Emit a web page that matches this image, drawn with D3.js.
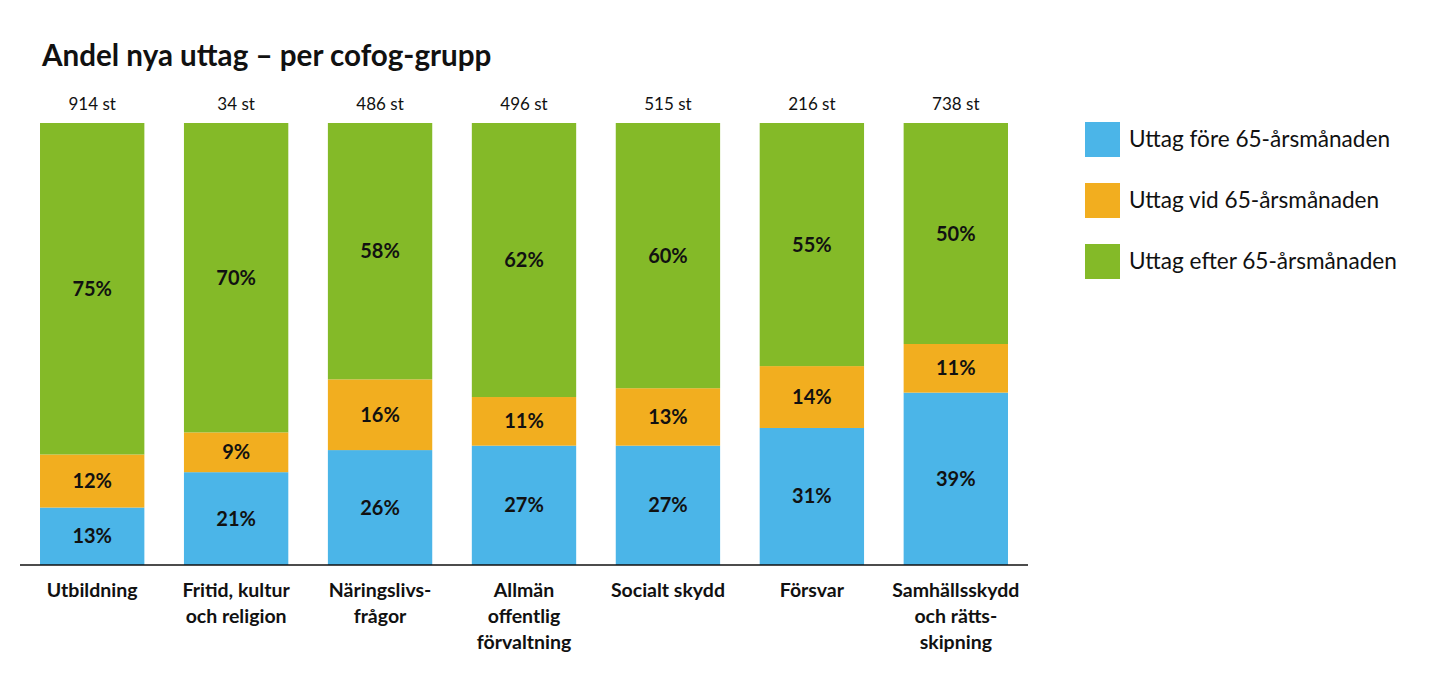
<!DOCTYPE html>
<html><head><meta charset="utf-8">
<script src="https://cdn.jsdelivr.net/npm/d3@7"></script>
<style>body{margin:0;background:#fff;} text{font-family:Lato,"Open Sans",sans-serif;}</style>
</head><body><svg id="c" width="1436" height="694"></svg>
<script>
const categories = [["Utbildning"],["Fritid, kultur","och religion"],["Näringslivs-","frågor"],["Allmän","offentlig","förvaltning"],["Socialt skydd"],["Försvar"],["Samhällsskydd","och rätts-","skipning"]];
const counts = ["914 st","34 st","486 st","496 st","515 st","216 st","738 st"];
const fore = [13,21,26,27,27,31,39];
const vid = [12,9,16,11,13,14,11];
const efter = [75,70,58,62,60,55,50];
const seriesNames = ["Uttag före 65-årsmånaden","Uttag vid 65-årsmånaden","Uttag efter 65-årsmånaden"];
const colors = ["#4bb5e8","#f2ae1f","#84ba28"];

const svg = d3.select("#c");
const rows = categories.map((c,i)=>({i, fore:fore[i], vid:vid[i], efter:efter[i]}));
const keys = ["fore","vid","efter"];
const stack = d3.stack().keys(keys)(rows);

const x = d3.scaleBand().domain(d3.range(categories.length)).range([21.3,1026.7]).paddingInner(0.275).paddingOuter(0.13);
const y = d3.scaleLinear().domain([0,100]).range([565,123]);

svg.append("text").attr("x",42).attr("y",66).attr("font-size",29.6).attr("font-weight",700).attr("fill","#111").text("Andel nya uttag – per cofog-grupp");

stack.forEach((s,k)=>{
  const g = svg.append("g");
  g.selectAll("rect").data(s).join("rect")
    .attr("x",(d,i)=>x(i)).attr("width",x.bandwidth())
    .attr("y",d=>y(d[1])).attr("height",d=>y(d[0])-y(d[1]))
    .attr("fill",colors[k]);
  g.selectAll("text").data(s).join("text")
    .attr("x",(d,i)=>x(i)+x.bandwidth()/2)
    .attr("y",d=>(y(d[0])+y(d[1]))/2+7)
    .attr("text-anchor","middle").attr("font-size",20).attr("font-weight",700).attr("fill","#111")
    .text(d=>(d[1]-d[0])+"%");
});

svg.append("g").selectAll("text").data(counts).join("text")
  .attr("x",(d,i)=>x(i)+x.bandwidth()/2).attr("y",110)
  .attr("text-anchor","middle").attr("font-size",17).attr("fill","#111").text(d=>d);

const axis = d3.axisBottom(x).tickSize(0).tickFormat("");
const ag = svg.append("g").attr("transform","translate(0,565)").call(axis);
ag.select(".domain").attr("stroke","#111").attr("stroke-width",1.5).attr("d","M20,0H1028");

const lab = svg.append("g").selectAll("text").data(categories).join("text")
  .attr("x",(d,i)=>x(i)+x.bandwidth()/2).attr("y",597)
  .attr("text-anchor","middle").attr("font-size",19.5).attr("font-weight",700).attr("fill","#111");
lab.selectAll("tspan").data(d=>d).join("tspan")
  .attr("x",function(){return this.parentNode.getAttribute("x");})
  .attr("dy",(d,j)=>j===0?0:26).text(d=>d);

const lg = svg.append("g").selectAll("g").data(seriesNames).join("g")
  .attr("transform",(d,i)=>`translate(1085,${122+i*61})`);
lg.append("rect").attr("width",35).attr("height",35).attr("fill",(d,i)=>colors[i]);
lg.append("text").attr("x",44).attr("y",25).attr("font-size",22.6).attr("fill","#111").text(d=>d);
</script></body></html>
